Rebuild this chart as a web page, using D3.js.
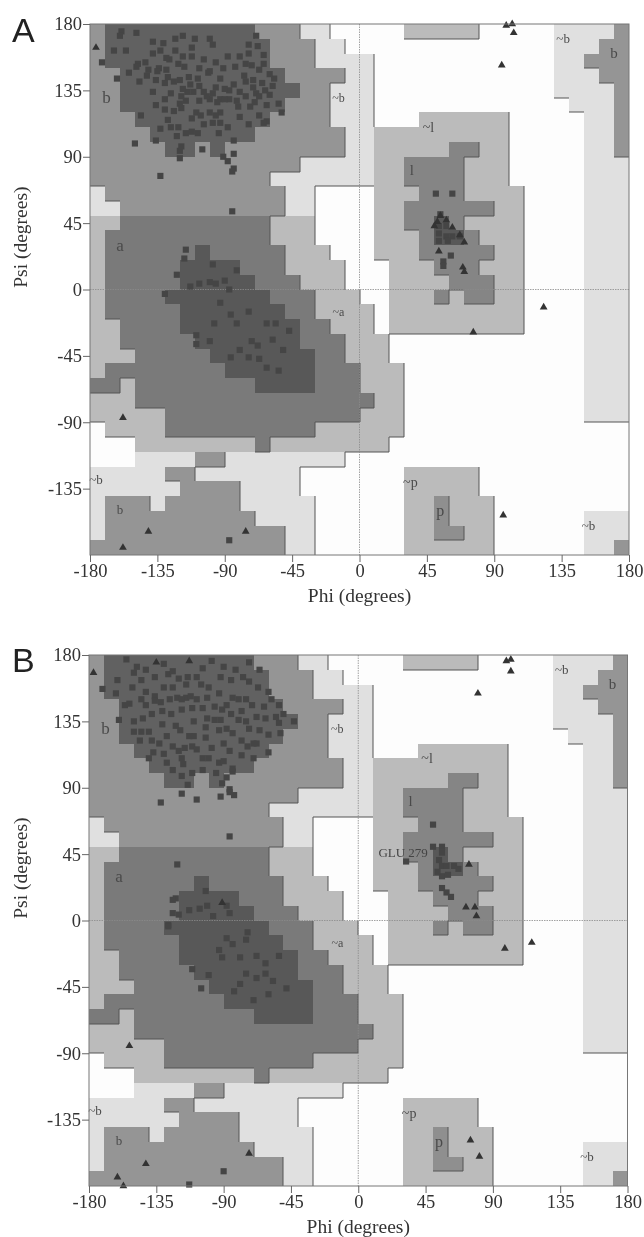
<!DOCTYPE html>
<html>
<head>
<meta charset="utf-8">
<script src="https://cdn.jsdelivr.net/npm/d3@7"></script>
<style>
    html, body { margin: 0; padding: 0; background: #fff; }
    svg { display: block; filter: blur(0.45px); }
    text { font-family: "Liberation Serif", serif; fill: #333; }
    .panel-letter { font-family: "Liberation Sans", sans-serif; fill: #222; }
</style>
</head>
<body>
<div id="chart"></div>
<script>
// 10 degree cells, top row is psi 170..180, left col is phi -180..-170
const regionRows = [
    "bCCCCCCCCCCbbbgg.." + "...GGGGG.....ggggb",
    "bCCCCCCCCCCCbbbgg." + ".............gggbb",
    "bCCCCCCCCCCCbbbggg" + "g............ggbbb",
    "bbCCCCCCCCCCCbbbbg" + "g............gggbb",
    "bbCCCCCCCCCCCCbbgg" + "g............ggggb",
    "bbCCCCCCCCCCCbbbgg" + "g.............gggb",
    "bbbCCCCCCCCCbbbbgg" + "g...GGGGGG.....ggb",
    "bbbbCCCCCCCbbbbbbg" + "gGGGGGGGGG.....ggb",
    "bbbbbCCbCbbbbbbbbg" + "gGGGGGllGG.....ggb",
    "bbbbbbbbbbbbbbgggg" + "gGGllllGGG.....ggg",
    "bbbbbbbbbbbbgggggg" + "gGGllllGGG.....ggg",
    "gbbbbbbbbbbbbgg..." + ".GGGlllGGGG....ggg",
    "ggbbbbbbbbbbbgg..." + ".GGllllllGG....ggg",
    "GGaaaaaaaaaaGGG..." + ".GGllAlGGGG....ggg",
    "GaaaaaaaaaaaGGG..." + ".GGGlAAlGGG....ggg",
    "GaaaaaaAaaaaaGGG.." + ".GGGlllllGG....ggg",
    "GaaaaaAAAAaaaGGGG." + "..GGGlllGGG....ggg",
    "GaaaaaAAAAAaaaGGG." + "..GGGGlllGG....ggg",
    "GaaaaAAAAAAAaaaGGG" + "..GGGlGllGG....ggg",
    "GaaaaaAAAAAAAaaGGG" + "G.GGGGGGGGG....ggg",
    "GGaaaaAAAAAAAAaaGG" + "G.GGGGGGGGG....ggg",
    "GGaaaaaAAAAAAAaaaG" + "GG.............ggg",
    "GGGaaaaaAAAAAAAaaG" + "GG.............ggg",
    "GaaaaaaaaAAAAAAaaa" + "GGG............ggg",
    "aaGaaaaaaaaAAAAaaa" + "GGG............ggg",
    "GGGaaaaaaaaaaaaaaa" + "aGG............ggg",
    "GGGGGaaaaaaaaaaaaa" + "GGG............ggg",
    ".GGGGaaaaaaaaaaGGG" + "GGG...............",
    "...GGGGGGGGaGGGGGG" + "GG................",
    "...ggggbbgggggggg." + "..................",
    "gggggbbggggggg...." + "...GGGGG..........",
    "ggggggbbbbgggg...." + "...GGGGG..........",
    "gbbbgbbbbbggggg..." + "...GGpGGG.........",
    "gbbbbbbbbbbgggg..." + "...GGpGGG......ggg",
    "gbbbbbbbbbbbbgg..." + "...GGppGG......ggg",
    "bbbbbbbbbbbbbgg..." + "...GGGGGG......ggb"
];

const regionColors = { ".": "#fdfdfd", g: "#e0e0e0", G: "#bbbbbb", b: "#959595", a: "#7a7a7a", l: "#858585", p: "#8f8f8f", C: "#616161", A: "#585858" };
const regionLevels = { ".": 0, g: 1, G: 1, b: 2, a: 2, l: 2, p: 2, C: 2, A: 2 };

const xTicks = [-180, -135, -90, -45, 0, 45, 90, 135, 180];
const yTicks = [-135, -90, -45, 0, 45, 90, 135, 180];

// [text, phi, psi, font size]
const regionLabels = [
    ["b", -169, 129, 17], ["~b", -14, 129, 12], ["a", -160, 29, 17], ["~l", 46, 109, 14], ["l", 35, 80, 15],
    ["~b", 136, 169, 13], ["b", 170, 159, 15], ["~a", -14, -16, 12], ["~b", -176, -130, 13], ["b", -160, -150, 13],
    ["~p", 34, -132, 14], ["p", 54, -151, 16], ["~b", 153, -161, 13]
];

const squaresA = [
    [-159,175],[-160,172],[-149,174],[-164,162],[-156,162],[-172,154],[-162,143],[-154,147],[-148,153],[-149,151],
    [-147,141],[-141,149],[-138,168],[-131,167],[-133,162],[-138,160],[-123,170],[-118,172],[-110,170],[-100,170],
    [-98,166],[-112,164],[-112,158],[-123,162],[-127,156],[-121,153],[-117,151],[-107,150],[-96,154],[-100,148],
    [-91,150],[-83,151],[-74,166],[-69,172],[-68,165],[-74,160],[-64,159],[-64,153],[-76,153],[-77,145],
    [-67,149],[-71,142],[-57,143],[-58,138],[-63,135],[-60,132],[-69,133],[-93,143],[-96,137],[-87,135],
    [-80,134],[-138,134],[-136,142],[-130,140],[-120,142],[-114,144],[-107,138],[-111,134],[-119,131],[-120,126],
    [-130,129],[-136,125],[-130,122],[-124,121],[-119,123],[-100,129],[-107,128],[-93,129],[-87,129],[-81,124],
    [-73,124],[-62,125],[-54,126],[-52,120],[-67,118],[-62,114],[-64,113],[-80,117],[-93,120],[-96,118],
    [-104,112],[-116,106],[-112,107],[-121,110],[-128,115],[-133,109],[-136,101],[-122,104],[-146,118],[-150,99],
    [-133,77],[-84,101],[-84,92],[-105,95],[-120,94],[-119,97],[-120,89],[-91,90],[-88,87],[-84,82],
    [-85,80],[-85,53],[-129,157],[-102,131],[-115,134],[-90,129],[-109,120],[-98,113],[-93,113],[-76,141],
    [-71,137],[-67,131],[-142,145],[-134,150],[-129,149],[-124,141],[-101,147],[-108,143],
    [-118,136],[-116,128],[-113,139],[-104,134],[-98,133],[-95,127],[-90,136],[-84,139],[-82,128],[-76,131],
    [-70,127],[-65,140],[-60,146],[-72,152],[-80,158],[-88,158],[-104,156],[-118,158],[-128,144],[-135,148],
    [-143,154],[-126,133],[-112,116],[-106,118],[-100,120],[-88,110],[-94,106],[-108,106],[-126,110],[-74,112],
    [-116,27],[-117,21],[-122,10],[-113,2],[-107,4],[-100,5],[-96,4],[-98,17],[-82,13],[-90,6],
    [-87,0],[-130,-3],[-93,-9],[-86,-17],[-82,-23],[-74,-15],[-97,-23],[-109,-31],[-109,-37],[-100,-35],
    [-80,-41],[-86,-46],[-74,-46],[-72,-35],[-68,-38],[-67,-47],[-62,-53],[-54,-55],[-62,-23],[-56,-23],
    [-58,-34],[-51,-41],[-47,-28],[-87,-170],
    [51,65],[62,65],[54,51],[53,43],[58,43],[53,38],[58,36],[62,36],[67,36],[53,33],[59,33],[61,23],[56,19],[56,16]
];
const trianglesA = [
    [-176,164],[-158,-87],[-141,-164],[-158,-175],[-76,-164],[98,179],[102,180],[103,174],[95,152],
    [54,50],[52,46],[58,47],[50,43],[62,42],[67,37],[70,32],[53,26],[69,15],[70,12],[123,-12],[76,-29],[96,-153]
];

const squaresB = [
    [-171,157],[-160,136],[-155,177],[-148,172],[-161,163],[-162,154],[-151,158],[-142,155],[-136,152],[-145,163],
    [-136,165],[-127,167],[-124,169],[-114,165],[-104,171],[-85,163],[-77,165],[-73,175],[-73,162],[-67,158],
    [-84,151],[-93,154],[-101,151],[-115,151],[-124,158],[-121,151],[-153,147],[-142,146],[-136,149],[-131,142],
    [-118,143],[-111,144],[-101,137],[-91,143],[-78,142],[-71,146],[-63,145],[-53,146],[-62,137],[-53,134],
    [-43,135],[-144,137],[-131,133],[-119,129],[-110,125],[-102,131],[-93,129],[-84,127],[-73,130],[-66,129],
    [-146,122],[-133,120],[-124,118],[-116,117],[-111,118],[-98,117],[-86,115],[-74,118],[-60,114],[-128,107],
    [-117,106],[-111,100],[-93,107],[-84,101],[-84,103],[-137,114],[-104,110],[-91,93],[-86,89],[-86,87],
    [-118,86],[-92,84],[-83,85],[-108,82],[-132,80],[-86,57],[-121,38],
    [-125,140],[-108,150],[-96,145],[-88,130],[-80,150],[-110,135],[-128,125],[-90,120],[-100,110],[-75,135],
    [-68,120],[-140,128],[-115,160],[-92,165],[-130,158],[-145,150],[-120,115],[-70,110],[-85,140],[-105,160],
    [-60,155],[-75,150],[-55,138],[-138,140],[-150,135],[-95,100],[-122,132],[-113,125],[-78,122],[-100,158],
    [-150,168],[-142,170],[-130,174],[-120,164],[-108,165],[-98,176],[-90,172],[-82,170],[-66,170],[-58,150],
    [-50,140],[-156,146],[-150,128],[-138,122],[-126,150],[-112,152],[-104,144],[-96,136],[-88,146],[-80,136],
    [-68,138],[-60,126],[-52,127],[-70,120],[-78,112],[-90,108],[-102,124],[-108,116],[-118,110],[-130,113],
    [-140,110],[-124,102],[-104,102],[-88,97],[-118,98],[-114,92],[-145,128],[-132,148],[-118,150],[-92,136],
    [-122,15],[-124,14],[-124,5],[-120,4],[-102,20],[-113,7],[-106,8],[-101,10],[-97,3],[-88,10],
    [-86,5],[-127,-3],[-127,-4],[-88,-12],[-74,-8],[-84,-16],[-75,-13],[-93,-20],[-79,-25],[-91,-25],
    [-111,-33],[-100,-37],[-105,-46],[-75,-36],[-68,-39],[-83,-48],[-79,-43],[-70,-54],[-62,-36],[-57,-41],
    [-48,-46],[-62,-29],[-53,-24],[-68,-24],[-60,-50],[-90,-170],[-113,-179],
    [50,65],[32,40],[50,50],[56,50],[56,46],[54,41],[56,37],[59,37],[64,37],[67,35],[56,30],[60,31],[53,33],[56,22],[59,19],[62,16]
];
const trianglesB = [
    [-177,168],[-113,176],[-135,175],[-91,12],[-153,-85],[-142,-165],[-161,-174],[-157,-180],[-73,-158],
    [99,176],[102,177],[102,169],[80,154],[74,38],[72,9],[78,9],[79,3],[98,-19],[116,-15],[75,-149],[81,-160]
];

const svg = d3.select("#chart").append("svg")
    .attr("width", 644)
    .attr("height", 1237);

function drawPanel(opts) {
    const x = d3.scaleLinear().domain([-180, 180]).range([opts.left, opts.right]);
    const y = d3.scaleLinear().domain([-180, 180]).range([opts.bottom, opts.top]);
    const g = svg.append("g");
    const sx = v => Math.round(x(v));
    const sy = v => Math.round(y(v));

    // turn the row strings into cells
    const cells = [];
    regionRows.forEach((row, r) => {
        row.split("").forEach((code, c) => {
            cells.push({ code, phi: -180 + c * 10, psi: 180 - r * 10, r, c });
        });
    });

    g.selectAll(".cell")
        .data(cells)
        .enter()
        .append("rect")
        .attr("class", "cell")
        .attr("x", d => sx(d.phi))
        .attr("y", d => sy(d.psi))
        .attr("width", d => sx(d.phi + 10) - sx(d.phi))
        .attr("height", d => sy(d.psi - 10) - sy(d.psi))
        .attr("shape-rendering", "crispEdges")
        .attr("fill", d => regionColors[d.code]);

    // dark edge where a region steps down to a lighter one, right and below only
    const edges = [];
    cells.forEach(d => {
        const level = regionLevels[d.code];
        if (d.c < 35 && regionLevels[regionRows[d.r][d.c + 1]] < level) {
            edges.push([d.phi + 10, d.psi, d.phi + 10, d.psi - 10]);
        }
        if (d.r < 35 && regionLevels[regionRows[d.r + 1][d.c]] < level) {
            edges.push([d.phi, d.psi - 10, d.phi + 10, d.psi - 10]);
        }
    });
    g.selectAll(".edge")
        .data(edges)
        .enter()
        .append("line")
        .attr("class", "edge")
        .attr("x1", d => sx(d[0]))
        .attr("y1", d => sy(d[1]))
        .attr("x2", d => sx(d[2]))
        .attr("y2", d => sy(d[3]))
        .attr("stroke", "#555")
        .attr("stroke-width", 1);

    // zero lines
    g.append("line")
        .attr("x1", x(0)).attr("x2", x(0))
        .attr("y1", y(180)).attr("y2", y(-180))
        .attr("stroke", "#8a8a8a").attr("stroke-width", 0.8).attr("stroke-dasharray", "1.5 1");
    g.append("line")
        .attr("x1", x(-180)).attr("x2", x(180))
        .attr("y1", y(0)).attr("y2", y(0))
        .attr("stroke", "#8a8a8a").attr("stroke-width", 0.8).attr("stroke-dasharray", "1.5 1");

    g.selectAll(".region-label")
        .data(regionLabels)
        .enter()
        .append("text")
        .attr("class", "region-label")
        .attr("x", d => x(d[1]))
        .attr("y", d => y(d[2]))
        .attr("text-anchor", "middle")
        .attr("dominant-baseline", "middle")
        .attr("font-size", d => d[3])
        .style("fill", "#4a4a4a")
        .text(d => d[0]);

    const square = d3.symbol().type(d3.symbolSquare).size(38);
    const triangle = d3.symbol().type(d3.symbolTriangle).size(26);

    g.selectAll(".sq")
        .data(opts.squares)
        .enter()
        .append("path")
        .attr("class", "sq")
        .attr("d", square)
        .attr("transform", d => `translate(${x(d[0])},${y(d[1])})`)
        .attr("fill", "#454545");

    g.selectAll(".tri")
        .data(opts.triangles)
        .enter()
        .append("path")
        .attr("class", "tri")
        .attr("d", triangle)
        .attr("transform", d => `translate(${x(d[0])},${y(d[1])})`)
        .attr("fill", "#333");

    // frame + axes
    g.append("rect")
        .attr("x", x(-180)).attr("y", y(180))
        .attr("width", x(180) - x(-180)).attr("height", y(-180) - y(180))
        .attr("fill", "none").attr("stroke", "#777").attr("stroke-width", 1);

    const xAxis = d3.axisBottom(x).tickValues(xTicks).tickSize(7).tickPadding(2).tickFormat(d => String(d));
    const yAxis = d3.axisLeft(y).tickValues(yTicks).tickSize(7).tickPadding(1).tickFormat(d => String(d));

    const gx = g.append("g").attr("transform", `translate(0,${opts.bottom})`).call(xAxis);
    const gy = g.append("g").attr("transform", `translate(${opts.left},0)`).call(yAxis);
    [gx, gy].forEach(a => {
        a.select(".domain").remove();
        a.selectAll("line").attr("stroke", "#666");
        a.selectAll("text").attr("font-size", 18.5).attr("font-family", null);
    });

    g.append("text")
        .attr("x", (opts.left + opts.right) / 2)
        .attr("y", opts.bottom + 47)
        .attr("text-anchor", "middle")
        .attr("font-size", 19.5)
        .text("Phi (degrees)");

    g.append("text")
        .attr("transform", `translate(27,${y(45) + 14}) rotate(-90)`)
        .attr("text-anchor", "middle")
        .attr("font-size", 19.5)
        .text("Psi (degrees)");

    g.append("text")
        .attr("class", "panel-letter")
        .attr("x", 12)
        .attr("y", opts.letterY)
        .attr("font-size", 34)
        .text(opts.letter);

    return { x, y, g };
}

drawPanel({ letter: "A", letterY: 42, left: 90, right: 629, top: 24, bottom: 555, squares: squaresA, triangles: trianglesA });
const panelB = drawPanel({ letter: "B", letterY: 672, left: 89, right: 627.5, top: 655, bottom: 1186, squares: squaresB, triangles: trianglesB });

panelB.g.append("text")
    .attr("x", panelB.x(30))
    .attr("y", panelB.y(45))
    .attr("text-anchor", "middle")
    .attr("dominant-baseline", "middle")
    .attr("font-size", 13)
    .style("fill", "#444")
    .text("GLU 279");
</script>
</body>
</html>
